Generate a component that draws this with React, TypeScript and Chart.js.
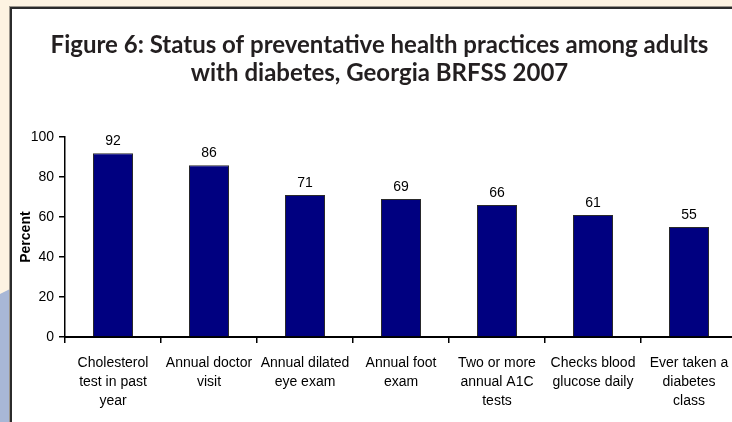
import React, { useEffect, useRef } from "react";
import { Chart, registerables } from "chart.js";

Chart.register(...registerables);

const titleLines = [
  "Figure 6: Status of preventative health practices among adults",
  "with diabetes, Georgia BRFSS 2007",
];
const categories: string[][] = [
  ["Cholesterol", "test in past", "year"],
  ["Annual doctor", "visit"],
  ["Annual dilated", "eye exam"],
  ["Annual foot", "exam"],
  ["Two or more", "annual A1C", "tests"],
  ["Checks blood", "glucose daily"],
  ["Ever taken a", "diabetes", "class"],
];
const values = [92, 86, 71, 69, 66, 61, 55];
const yMin = 0;
const yMax = 100;
const yStep = 20;
const yTitle = "Percent";

const W = 735;
const H = 413;
const FONT = "'Liberation Sans', Arial, sans-serif";

const valueLabels = {
  id: "valueLabels",
  afterDatasetsDraw(chart: any) {
    const ctx = chart.ctx;
    const meta = chart.getDatasetMeta(0);
    ctx.save();
    ctx.font = `14px ${FONT}`;
    ctx.fillStyle = "#000";
    ctx.textAlign = "center";
    ctx.textBaseline = "bottom";
    meta.data.forEach((el: any, i: number) => {
      ctx.fillText(String(values[i]), el.x, el.y - 5);
    });
    ctx.restore();
  },
};

export default function App() {
  const ref = useRef<HTMLCanvasElement | null>(null);
  useEffect(() => {
    if (!ref.current) return;
    const chart = new Chart(ref.current, {
      type: "bar",
      data: {
        labels: categories,
        datasets: [
          {
            data: values,
            backgroundColor: "#000080",
            borderColor: "#2a2a2a",
            borderWidth: 1,
            barPercentage: 0.417,
            categoryPercentage: 1,
          },
        ],
      },
      options: {
        responsive: false,
        animation: false,
        devicePixelRatio: 1,
        layout: { padding: { left: 10, right: 10, top: 0, bottom: 0 } },
        plugins: {
          legend: { display: false },
          tooltip: { enabled: false },
          title: {
            display: true,
            text: titleLines,
            color: "#231f20",
            font: { family: "Lato, 'Open Sans', sans-serif", weight: "bold", size: 24, lineHeight: 1.17 },
            padding: { top: 22, bottom: 50 },
          },
        },
        scales: {
          x: {
            grid: { display: true, drawOnChartArea: false, tickLength: 6, color: "#000", lineWidth: 1.5, offset: true },
            border: { display: true, color: "#000", width: 2 },
            ticks: {
              color: "#000",
              font: { family: FONT, size: 14, lineHeight: 1.36 },
              maxRotation: 0,
              autoSkip: false,
              padding: 11,
            },
            afterFit: (scale: any) => {
              scale.height = 85;
            },
          },
          y: {
            min: yMin,
            max: yMax,
            ticks: { stepSize: yStep, color: "#000", font: { family: FONT, size: 14 }, padding: 5 },
            grid: { drawOnChartArea: false, tickLength: 6, color: "#000", lineWidth: 1.5 },
            border: { display: true, color: "#000", width: 1.5 },
            title: {
              display: true,
              text: yTitle,
              color: "#000",
              font: { family: FONT, size: 14, weight: "bold" },
              padding: { top: -4, bottom: 0 },
            },
            afterFit: (scale: any) => {
              scale.width = 43;
            },
          },
        },
      },
      plugins: [valueLabels],
    });
    return () => chart.destroy();
  }, []);

  return (
    <div
      style={{
        position: "fixed",
        left: 0,
        top: 0,
        width: 732,
        height: 422,
        overflow: "hidden",
        background: "#fdf3e2",
      }}
    >
      <div
        style={{
          position: "absolute",
          left: 0,
          top: 280,
          width: 12,
          height: 142,
          background: "#a8b7d6",
          clipPath: "polygon(0 14px, 100% 8px, 100% 100%, 0 100%)",
        }}
      />
      <div
        style={{
          position: "absolute",
          left: 10,
          top: 7,
          width: 760,
          height: 430,
          background: "#fff",
          borderLeft: "2px solid #2b2b2b",
          borderTop: "2px solid #2b2b2b",
          boxShadow: "-1px -1px 0 #9a958c",
        }}
      >
        <canvas ref={ref} width={W} height={H} style={{ display: "block", width: W, height: H }} />
      </div>
    </div>
  );
}
